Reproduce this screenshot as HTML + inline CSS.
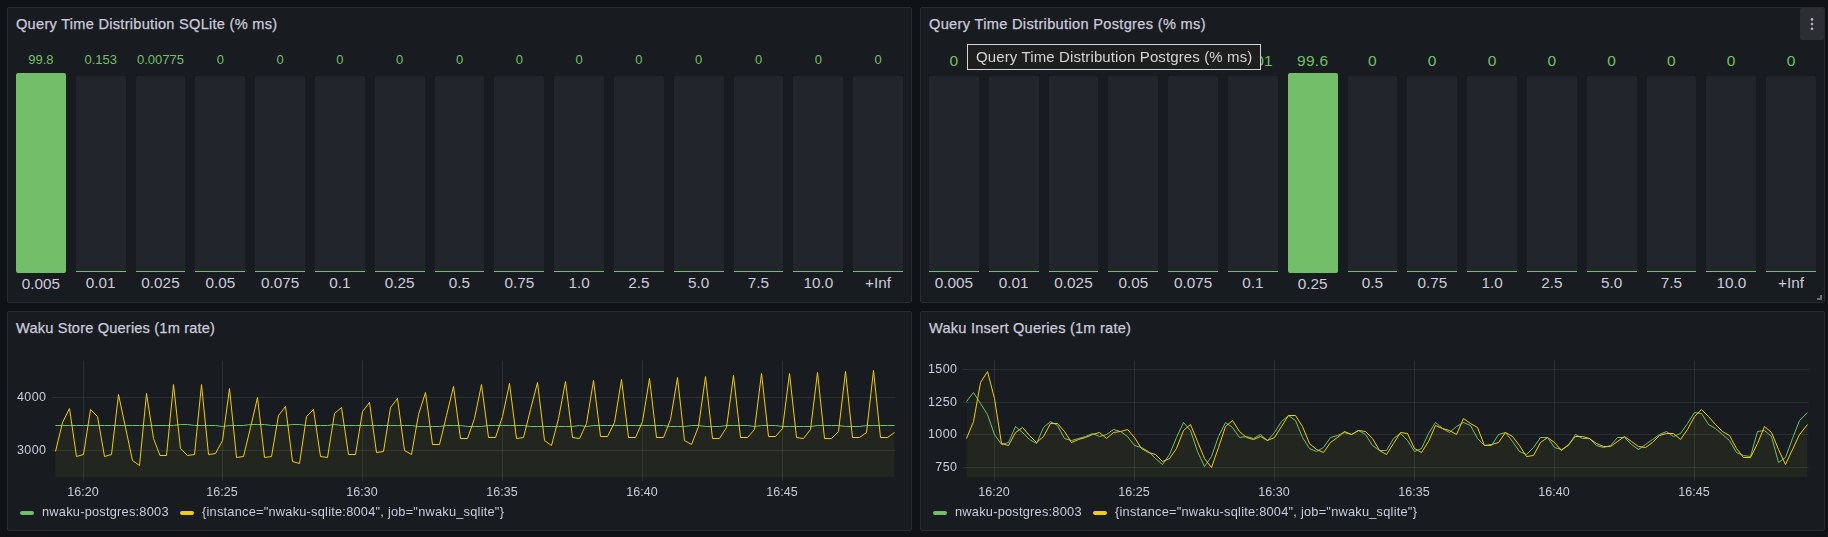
<!DOCTYPE html>
<html><head><meta charset="utf-8">
<style>
html,body{margin:0;padding:0;}
body{width:1828px;height:537px;background:#111217;position:relative;overflow:hidden;font-family:"Liberation Sans",sans-serif;color:#ccccdc;}
.panel{position:absolute;box-sizing:border-box;background:#181b1f;border:1px solid #292b30;border-radius:2px;}
.title{position:absolute;font-size:14.6px;line-height:18px;white-space:nowrap;color:#ccccdc;font-weight:400;letter-spacing:0.1px;-webkit-text-stroke:0.25px #ccccdc;}
.bar{position:absolute;top:76px;height:195px;background:#22252b;border-radius:2px 2px 0 0;border-bottom:1px solid #73bf69;box-sizing:content-box;}
.bar.hot{top:73px;height:200px;background:#73bf69;border-radius:2px;border-bottom:none;}
.lab{position:absolute;width:80px;text-align:center;font-size:15.3px;line-height:16px;color:#ccccdc;white-space:nowrap;}
.val{position:absolute;width:80px;text-align:center;color:#73bf69;white-space:nowrap;}
.v1{font-size:13px;line-height:14px;top:53px;}
.v2{font-size:15.5px;line-height:16px;top:53px;letter-spacing:0.3px;}
.yl{position:absolute;width:60.4px;text-align:right;letter-spacing:0.4px;font-size:12.5px;line-height:16px;color:#ccccdc;white-space:nowrap;}
.xl{position:absolute;width:60px;text-align:center;top:484px;font-size:12.5px;line-height:16px;color:#ccccdc;white-space:nowrap;}
.lg{position:absolute;top:504px;font-size:12.8px;letter-spacing:0.23px;line-height:16px;color:#ccccdc;white-space:nowrap;}
.pill{position:absolute;top:511px;width:14px;height:4px;border-radius:2px;}
svg{position:absolute;left:0;top:0;}
.menu{position:absolute;left:1800px;top:8px;width:24px;height:32px;background:#2d2e34;border-radius:2px;}
.menu i{position:absolute;left:11px;width:2px;height:2px;background:#b9b9c6;border-radius:0.5px;}
.tip,.lg,.xl,.yl{will-change:transform;}
.tip{position:absolute;left:967px;top:44px;width:294px;height:26px;box-sizing:border-box;border:1px solid #d4d4d4;background:#1e1e1e;color:#d6d6d6;font-size:15px;letter-spacing:0.12px;line-height:24px;padding-left:8px;white-space:nowrap;}
</style></head><body>
<div class="panel" style="left:7px;top:7px;width:905px;height:296px"></div>
<div class="panel" style="left:920px;top:7px;width:905px;height:296px"></div>
<div class="panel" style="left:7px;top:311px;width:905px;height:220px"></div>
<div class="panel" style="left:920px;top:311px;width:905px;height:220px"></div>

<div class="title" style="left:16px;top:14.5px;letter-spacing:0.27px" id="t1">Query Time Distribution SQLite (% ms)</div>
<div class="title" style="left:929px;top:14.5px;letter-spacing:0.32px" id="t2">Query Time Distribution Postgres (% ms)</div>
<div class="title" style="left:16px;top:318.6px;letter-spacing:0.18px" id="t3">Waku Store Queries (1m rate)</div>
<div class="title" style="left:929px;top:318.6px;letter-spacing:0.22px" id="t4">Waku Insert Queries (1m rate)</div>

<div class="bar hot" style="left:16.0px;width:49.8px"></div>
<div class="lab" style="left:0.9px;top:276px">0.005</div>
<div class="val v1" style="left:0.9px">99.8</div>
<div class="bar" style="left:75.8px;width:49.8px"></div>
<div class="lab" style="left:60.7px;top:275px">0.01</div>
<div class="val v1" style="left:60.7px">0.153</div>
<div class="bar" style="left:135.6px;width:49.8px"></div>
<div class="lab" style="left:120.5px;top:275px">0.025</div>
<div class="val v1" style="left:120.5px">0.00775</div>
<div class="bar" style="left:195.4px;width:49.8px"></div>
<div class="lab" style="left:180.3px;top:275px">0.05</div>
<div class="val v1" style="left:180.3px">0</div>
<div class="bar" style="left:255.2px;width:49.8px"></div>
<div class="lab" style="left:240.1px;top:275px">0.075</div>
<div class="val v1" style="left:240.1px">0</div>
<div class="bar" style="left:315.0px;width:49.8px"></div>
<div class="lab" style="left:299.9px;top:275px">0.1</div>
<div class="val v1" style="left:299.9px">0</div>
<div class="bar" style="left:374.8px;width:49.8px"></div>
<div class="lab" style="left:359.7px;top:275px">0.25</div>
<div class="val v1" style="left:359.7px">0</div>
<div class="bar" style="left:434.6px;width:49.8px"></div>
<div class="lab" style="left:419.5px;top:275px">0.5</div>
<div class="val v1" style="left:419.5px">0</div>
<div class="bar" style="left:494.4px;width:49.8px"></div>
<div class="lab" style="left:479.3px;top:275px">0.75</div>
<div class="val v1" style="left:479.3px">0</div>
<div class="bar" style="left:554.2px;width:49.8px"></div>
<div class="lab" style="left:539.1px;top:275px">1.0</div>
<div class="val v1" style="left:539.1px">0</div>
<div class="bar" style="left:614.0px;width:49.8px"></div>
<div class="lab" style="left:598.9px;top:275px">2.5</div>
<div class="val v1" style="left:598.9px">0</div>
<div class="bar" style="left:673.8px;width:49.8px"></div>
<div class="lab" style="left:658.7px;top:275px">5.0</div>
<div class="val v1" style="left:658.7px">0</div>
<div class="bar" style="left:733.6px;width:49.8px"></div>
<div class="lab" style="left:718.5px;top:275px">7.5</div>
<div class="val v1" style="left:718.5px">0</div>
<div class="bar" style="left:793.4px;width:49.8px"></div>
<div class="lab" style="left:778.3px;top:275px">10.0</div>
<div class="val v1" style="left:778.3px">0</div>
<div class="bar" style="left:853.2px;width:49.8px"></div>
<div class="lab" style="left:838.1px;top:275px">+Inf</div>
<div class="val v1" style="left:838.1px">0</div>
<div class="bar" style="left:929.0px;width:49.8px"></div>
<div class="lab" style="left:913.9px;top:275px">0.005</div>
<div class="val v2" style="left:913.9px">0</div>
<div class="bar" style="left:988.8px;width:49.8px"></div>
<div class="lab" style="left:973.7px;top:275px">0.01</div>
<div class="val v2" style="left:973.7px">0</div>
<div class="bar" style="left:1048.6px;width:49.8px"></div>
<div class="lab" style="left:1033.5px;top:275px">0.025</div>
<div class="val v2" style="left:1033.5px">0</div>
<div class="bar" style="left:1108.4px;width:49.8px"></div>
<div class="lab" style="left:1093.3px;top:275px">0.05</div>
<div class="val v2" style="left:1093.3px">0</div>
<div class="bar" style="left:1168.2px;width:49.8px"></div>
<div class="lab" style="left:1153.1px;top:275px">0.075</div>
<div class="val v2" style="left:1153.1px">0</div>
<div class="bar" style="left:1228.0px;width:49.8px"></div>
<div class="lab" style="left:1212.9px;top:275px">0.1</div>
<div class="val v2" style="left:1212.9px">0.401</div>
<div class="bar hot" style="left:1287.8px;width:49.8px"></div>
<div class="lab" style="left:1272.7px;top:276px">0.25</div>
<div class="val v2" style="left:1272.7px">99.6</div>
<div class="bar" style="left:1347.6px;width:49.8px"></div>
<div class="lab" style="left:1332.5px;top:275px">0.5</div>
<div class="val v2" style="left:1332.5px">0</div>
<div class="bar" style="left:1407.4px;width:49.8px"></div>
<div class="lab" style="left:1392.3px;top:275px">0.75</div>
<div class="val v2" style="left:1392.3px">0</div>
<div class="bar" style="left:1467.2px;width:49.8px"></div>
<div class="lab" style="left:1452.1px;top:275px">1.0</div>
<div class="val v2" style="left:1452.1px">0</div>
<div class="bar" style="left:1527.0px;width:49.8px"></div>
<div class="lab" style="left:1511.9px;top:275px">2.5</div>
<div class="val v2" style="left:1511.9px">0</div>
<div class="bar" style="left:1586.8px;width:49.8px"></div>
<div class="lab" style="left:1571.7px;top:275px">5.0</div>
<div class="val v2" style="left:1571.7px">0</div>
<div class="bar" style="left:1646.6px;width:49.8px"></div>
<div class="lab" style="left:1631.5px;top:275px">7.5</div>
<div class="val v2" style="left:1631.5px">0</div>
<div class="bar" style="left:1706.4px;width:49.8px"></div>
<div class="lab" style="left:1691.3px;top:275px">10.0</div>
<div class="val v2" style="left:1691.3px">0</div>
<div class="bar" style="left:1766.2px;width:49.8px"></div>
<div class="lab" style="left:1751.1px;top:275px">+Inf</div>
<div class="val v2" style="left:1751.1px">0</div>

<div class="menu"></div>
<div style="position:absolute;left:1820px;top:295px;width:2px;height:5px;background:#6e6e6e"></div><div style="position:absolute;left:1817px;top:298px;width:5px;height:2px;background:#6e6e6e"></div>
<div class="tip" id="tip">Query Time Distribution Postgres (% ms)</div>

<svg width="1828" height="537" viewBox="0 0 1828 537">
<rect x="52" y="397" width="843.5" height="1" fill="rgba(200,215,215,0.105)"/>
<rect x="52" y="450" width="843.5" height="1" fill="rgba(200,215,215,0.105)"/>
<rect x="83" y="360.5" width="1" height="120.5" fill="rgba(200,215,215,0.105)"/>
<rect x="222" y="360.5" width="1" height="120.5" fill="rgba(200,215,215,0.105)"/>
<rect x="362" y="360.5" width="1" height="120.5" fill="rgba(200,215,215,0.105)"/>
<rect x="502" y="360.5" width="1" height="120.5" fill="rgba(200,215,215,0.105)"/>
<rect x="642" y="360.5" width="1" height="120.5" fill="rgba(200,215,215,0.105)"/>
<rect x="782" y="360.5" width="1" height="120.5" fill="rgba(200,215,215,0.105)"/>
<path d="M55.5 425.5 L62.5 425.5 L69.5 425.5 L76.5 425.5 L83.5 425.5 L90.5 425.5 L97.5 425.5 L104.5 425.5 L111.5 425.5 L118.5 425.5 L125.5 425.5 L132.5 425.5 L139.5 425.5 L146.5 425.5 L153.5 425.5 L160.0 425.5 L166.5 425.5 L173.5 425.5 L180.5 424.5 L187.5 424.5 L194.5 425.5 L201.5 425.5 L208.5 425.5 L215.5 425.5 L222.5 426.5 L229.5 425.5 L236.5 425.5 L243.5 425.5 L250.5 424.5 L257.5 424.5 L264.5 424.5 L271.5 425.5 L278.5 425.5 L285.5 425.5 L292.5 424.5 L299.5 424.5 L306.5 425.5 L313.5 425.5 L320.5 425.5 L327.5 425.5 L334.5 424.5 L341.5 425.5 L348.5 425.5 L355.5 425.5 L362.5 425.5 L369.5 425.5 L376.5 425.5 L383.5 425.5 L390.5 425.5 L397.5 425.5 L404.5 425.5 L411.5 425.5 L418.5 426.5 L425.5 426.5 L432.5 426.5 L439.5 426.5 L446.5 425.5 L453.5 425.5 L460.5 425.5 L467.5 426.5 L474.5 426.5 L481.5 426.5 L488.5 425.5 L495.5 425.5 L502.5 425.5 L509.5 425.5 L516.5 425.5 L523.5 425.5 L530.5 426.5 L537.5 426.5 L544.5 426.5 L551.5 426.5 L558.5 426.5 L565.5 426.5 L572.5 426.5 L579.5 425.5 L586.5 426.5 L593.5 425.5 L600.5 425.5 L607.5 425.5 L614.5 425.5 L621.5 425.5 L628.5 425.5 L635.5 425.5 L642.5 425.5 L649.5 425.5 L656.5 425.5 L663.5 425.5 L670.5 426.5 L677.5 426.5 L684.5 426.5 L691.5 425.5 L698.5 425.5 L705.5 426.5 L712.5 426.5 L719.5 426.5 L726.5 425.5 L733.5 425.5 L740.5 425.5 L747.5 425.5 L754.5 426.5 L761.5 425.5 L768.5 425.5 L775.5 425.5 L782.5 426.5 L789.5 426.5 L796.5 426.5 L803.5 426.5 L810.5 426.5 L817.5 425.5 L824.5 425.5 L831.5 425.5 L838.5 425.5 L845.5 426.5 L852.5 426.5 L859.5 426.5 L866.5 425.5 L873.5 425.5 L880.5 425.5 L887.5 425.5 L894.5 425.5 L894.5 477.0 L55.5 477.0 Z" fill="#73bf69" fill-opacity="0.028" stroke="none"/>
<path d="M55.5 451.5 L62.5 422.5 L69.5 408.5 L76.5 456.5 L83.5 454.5 L90.5 409.5 L97.5 416.5 L104.5 456.5 L111.5 454.5 L118.5 394.5 L125.5 427.5 L132.5 460.5 L139.5 465.5 L146.5 393.5 L153.5 438.5 L160.0 455.5 L166.5 455.5 L173.5 384.5 L180.5 448.5 L187.5 455.5 L194.5 454.5 L201.5 384.5 L208.5 454.5 L215.5 453.5 L222.5 440.5 L229.5 388.5 L236.5 457.5 L243.5 456.5 L250.5 427.5 L257.5 397.5 L264.5 457.5 L271.5 456.5 L278.5 415.5 L285.5 406.5 L292.5 461.5 L299.5 463.5 L306.5 416.5 L313.5 409.5 L320.5 456.5 L327.5 457.5 L334.5 413.5 L341.5 407.5 L348.5 454.5 L355.5 454.5 L362.5 411.5 L369.5 402.5 L376.5 452.5 L383.5 451.5 L390.5 407.5 L397.5 398.5 L404.5 450.5 L411.5 454.5 L418.5 414.5 L425.5 392.5 L432.5 444.5 L439.5 444.5 L446.5 415.5 L453.5 386.5 L460.5 438.5 L467.5 438.5 L474.5 418.5 L481.5 384.5 L488.5 437.5 L495.5 437.5 L502.5 416.5 L509.5 383.5 L516.5 438.5 L523.5 437.5 L530.5 409.5 L537.5 382.5 L544.5 440.5 L551.5 445.5 L558.5 418.5 L565.5 381.5 L572.5 437.5 L579.5 438.5 L586.5 423.5 L593.5 380.5 L600.5 436.5 L607.5 436.5 L614.5 422.5 L621.5 379.5 L628.5 437.5 L635.5 437.5 L642.5 421.5 L649.5 378.5 L656.5 437.5 L663.5 437.5 L670.5 419.5 L677.5 377.5 L684.5 440.5 L691.5 444.5 L698.5 426.5 L705.5 376.5 L712.5 438.5 L719.5 438.5 L726.5 427.5 L733.5 375.5 L740.5 437.5 L747.5 437.5 L754.5 429.5 L761.5 373.5 L768.5 436.5 L775.5 436.5 L782.5 428.5 L789.5 373.5 L796.5 437.5 L803.5 438.5 L810.5 429.5 L817.5 372.5 L824.5 438.5 L831.5 438.5 L838.5 431.5 L845.5 371.5 L852.5 437.5 L859.5 437.5 L866.5 432.5 L873.5 370.5 L880.5 437.5 L887.5 437.5 L894.5 432.5 L894.5 477.0 L55.5 477.0 Z" fill="#f2cc0c" fill-opacity="0.045" stroke="none"/>
<path d="M55.5 425.5 L62.5 425.5 L69.5 425.5 L76.5 425.5 L83.5 425.5 L90.5 425.5 L97.5 425.5 L104.5 425.5 L111.5 425.5 L118.5 425.5 L125.5 425.5 L132.5 425.5 L139.5 425.5 L146.5 425.5 L153.5 425.5 L160.0 425.5 L166.5 425.5 L173.5 425.5 L180.5 424.5 L187.5 424.5 L194.5 425.5 L201.5 425.5 L208.5 425.5 L215.5 425.5 L222.5 426.5 L229.5 425.5 L236.5 425.5 L243.5 425.5 L250.5 424.5 L257.5 424.5 L264.5 424.5 L271.5 425.5 L278.5 425.5 L285.5 425.5 L292.5 424.5 L299.5 424.5 L306.5 425.5 L313.5 425.5 L320.5 425.5 L327.5 425.5 L334.5 424.5 L341.5 425.5 L348.5 425.5 L355.5 425.5 L362.5 425.5 L369.5 425.5 L376.5 425.5 L383.5 425.5 L390.5 425.5 L397.5 425.5 L404.5 425.5 L411.5 425.5 L418.5 426.5 L425.5 426.5 L432.5 426.5 L439.5 426.5 L446.5 425.5 L453.5 425.5 L460.5 425.5 L467.5 426.5 L474.5 426.5 L481.5 426.5 L488.5 425.5 L495.5 425.5 L502.5 425.5 L509.5 425.5 L516.5 425.5 L523.5 425.5 L530.5 426.5 L537.5 426.5 L544.5 426.5 L551.5 426.5 L558.5 426.5 L565.5 426.5 L572.5 426.5 L579.5 425.5 L586.5 426.5 L593.5 425.5 L600.5 425.5 L607.5 425.5 L614.5 425.5 L621.5 425.5 L628.5 425.5 L635.5 425.5 L642.5 425.5 L649.5 425.5 L656.5 425.5 L663.5 425.5 L670.5 426.5 L677.5 426.5 L684.5 426.5 L691.5 425.5 L698.5 425.5 L705.5 426.5 L712.5 426.5 L719.5 426.5 L726.5 425.5 L733.5 425.5 L740.5 425.5 L747.5 425.5 L754.5 426.5 L761.5 425.5 L768.5 425.5 L775.5 425.5 L782.5 426.5 L789.5 426.5 L796.5 426.5 L803.5 426.5 L810.5 426.5 L817.5 425.5 L824.5 425.5 L831.5 425.5 L838.5 425.5 L845.5 426.5 L852.5 426.5 L859.5 426.5 L866.5 425.5 L873.5 425.5 L880.5 425.5 L887.5 425.5 L894.5 425.5" fill="none" stroke="#73bf69" stroke-width="1" stroke-linejoin="round"/>
<path d="M55.5 451.5 L62.5 422.5 L69.5 408.5 L76.5 456.5 L83.5 454.5 L90.5 409.5 L97.5 416.5 L104.5 456.5 L111.5 454.5 L118.5 394.5 L125.5 427.5 L132.5 460.5 L139.5 465.5 L146.5 393.5 L153.5 438.5 L160.0 455.5 L166.5 455.5 L173.5 384.5 L180.5 448.5 L187.5 455.5 L194.5 454.5 L201.5 384.5 L208.5 454.5 L215.5 453.5 L222.5 440.5 L229.5 388.5 L236.5 457.5 L243.5 456.5 L250.5 427.5 L257.5 397.5 L264.5 457.5 L271.5 456.5 L278.5 415.5 L285.5 406.5 L292.5 461.5 L299.5 463.5 L306.5 416.5 L313.5 409.5 L320.5 456.5 L327.5 457.5 L334.5 413.5 L341.5 407.5 L348.5 454.5 L355.5 454.5 L362.5 411.5 L369.5 402.5 L376.5 452.5 L383.5 451.5 L390.5 407.5 L397.5 398.5 L404.5 450.5 L411.5 454.5 L418.5 414.5 L425.5 392.5 L432.5 444.5 L439.5 444.5 L446.5 415.5 L453.5 386.5 L460.5 438.5 L467.5 438.5 L474.5 418.5 L481.5 384.5 L488.5 437.5 L495.5 437.5 L502.5 416.5 L509.5 383.5 L516.5 438.5 L523.5 437.5 L530.5 409.5 L537.5 382.5 L544.5 440.5 L551.5 445.5 L558.5 418.5 L565.5 381.5 L572.5 437.5 L579.5 438.5 L586.5 423.5 L593.5 380.5 L600.5 436.5 L607.5 436.5 L614.5 422.5 L621.5 379.5 L628.5 437.5 L635.5 437.5 L642.5 421.5 L649.5 378.5 L656.5 437.5 L663.5 437.5 L670.5 419.5 L677.5 377.5 L684.5 440.5 L691.5 444.5 L698.5 426.5 L705.5 376.5 L712.5 438.5 L719.5 438.5 L726.5 427.5 L733.5 375.5 L740.5 437.5 L747.5 437.5 L754.5 429.5 L761.5 373.5 L768.5 436.5 L775.5 436.5 L782.5 428.5 L789.5 373.5 L796.5 437.5 L803.5 438.5 L810.5 429.5 L817.5 372.5 L824.5 438.5 L831.5 438.5 L838.5 431.5 L845.5 371.5 L852.5 437.5 L859.5 437.5 L866.5 432.5 L873.5 370.5 L880.5 437.5 L887.5 437.5 L894.5 432.5" fill="none" stroke="#f2cc0c" stroke-width="1" stroke-linejoin="round"/>
<rect x="963" y="369" width="845.6" height="1" fill="rgba(200,215,215,0.105)"/>
<rect x="963" y="402" width="845.6" height="1" fill="rgba(200,215,215,0.105)"/>
<rect x="963" y="434" width="845.6" height="1" fill="rgba(200,215,215,0.105)"/>
<rect x="963" y="467" width="845.6" height="1" fill="rgba(200,215,215,0.105)"/>
<rect x="994" y="360.5" width="1" height="120.5" fill="rgba(200,215,215,0.105)"/>
<rect x="1134" y="360.5" width="1" height="120.5" fill="rgba(200,215,215,0.105)"/>
<rect x="1274" y="360.5" width="1" height="120.5" fill="rgba(200,215,215,0.105)"/>
<rect x="1414" y="360.5" width="1" height="120.5" fill="rgba(200,215,215,0.105)"/>
<rect x="1554" y="360.5" width="1" height="120.5" fill="rgba(200,215,215,0.105)"/>
<rect x="1694" y="360.5" width="1" height="120.5" fill="rgba(200,215,215,0.105)"/>
<path d="M966.5 401.5 L973.5 392.5 L980.5 403.5 L987.5 414.5 L994.5 434.5 L1001.5 444.5 L1008.5 442.5 L1015.5 426.5 L1022.5 432.5 L1029.5 439.5 L1036.5 443.5 L1043.5 427.5 L1050.5 421.5 L1057.5 425.5 L1064.5 438.5 L1071.5 440.5 L1078.5 438.5 L1085.5 436.5 L1092.5 433.5 L1099.5 436.5 L1106.5 434.5 L1113.5 429.5 L1120.5 431.5 L1127.5 436.5 L1134.5 445.5 L1141.5 447.5 L1148.5 451.5 L1155.5 458.5 L1162.5 464.5 L1169.5 454.5 L1176.5 437.5 L1183.5 422.5 L1190.5 430.5 L1197.5 451.5 L1204.5 466.5 L1211.5 456.5 L1218.5 436.5 L1225.5 422.5 L1232.5 427.5 L1239.5 437.5 L1246.5 436.5 L1253.5 438.5 L1260.5 434.5 L1267.5 440.5 L1274.5 432.5 L1281.5 421.5 L1288.5 415.5 L1295.5 420.5 L1302.5 437.5 L1309.5 448.5 L1316.5 451.5 L1323.5 447.5 L1330.5 437.5 L1337.5 435.5 L1344.5 432.5 L1351.5 434.5 L1358.5 430.5 L1365.5 434.5 L1372.5 445.5 L1379.5 450.5 L1386.5 450.5 L1393.5 438.5 L1400.5 433.5 L1407.5 440.5 L1414.5 451.5 L1421.5 448.5 L1428.5 433.5 L1435.5 422.5 L1442.5 428.5 L1449.5 432.5 L1456.5 426.5 L1463.5 422.5 L1470.5 425.5 L1477.5 438.5 L1484.5 445.5 L1491.5 445.5 L1498.5 434.5 L1505.5 432.5 L1512.5 441.5 L1519.5 451.5 L1526.5 454.5 L1533.5 447.5 L1540.5 437.5 L1547.5 437.5 L1554.5 447.5 L1561.5 449.5 L1568.5 445.5 L1575.5 434.5 L1582.5 438.5 L1589.5 438.5 L1596.5 445.5 L1603.5 447.5 L1610.5 445.5 L1617.5 437.5 L1624.5 437.5 L1631.5 444.5 L1638.5 449.5 L1645.5 444.5 L1652.5 439.5 L1659.5 434.5 L1666.5 431.5 L1673.5 436.5 L1680.5 433.5 L1687.5 423.5 L1694.5 412.5 L1701.5 413.5 L1708.5 424.5 L1715.5 428.5 L1722.5 434.5 L1729.5 440.5 L1736.5 452.5 L1743.5 455.5 L1750.5 456.5 L1757.5 431.5 L1764.5 430.5 L1771.5 436.5 L1778.5 462.5 L1785.5 457.5 L1792.5 438.5 L1799.5 420.5 L1807.5 412.5 L1807.5 477.0 L966.5 477.0 Z" fill="#73bf69" fill-opacity="0.028" stroke="none"/>
<path d="M966.5 438.5 L973.5 421.5 L980.5 382.5 L987.5 371.5 L994.5 398.5 L1001.5 443.5 L1008.5 445.5 L1015.5 432.5 L1022.5 427.5 L1029.5 435.5 L1036.5 442.5 L1043.5 436.5 L1050.5 423.5 L1057.5 423.5 L1064.5 431.5 L1071.5 442.5 L1078.5 439.5 L1085.5 437.5 L1092.5 434.5 L1099.5 432.5 L1106.5 438.5 L1113.5 432.5 L1120.5 431.5 L1127.5 429.5 L1134.5 437.5 L1141.5 448.5 L1148.5 452.5 L1155.5 454.5 L1162.5 461.5 L1169.5 458.5 L1176.5 448.5 L1183.5 430.5 L1190.5 424.5 L1197.5 441.5 L1204.5 458.5 L1211.5 467.5 L1218.5 447.5 L1225.5 426.5 L1232.5 420.5 L1239.5 431.5 L1246.5 437.5 L1253.5 439.5 L1260.5 436.5 L1267.5 440.5 L1274.5 437.5 L1281.5 426.5 L1288.5 415.5 L1295.5 415.5 L1302.5 426.5 L1309.5 443.5 L1316.5 449.5 L1323.5 452.5 L1330.5 442.5 L1337.5 437.5 L1344.5 431.5 L1351.5 434.5 L1358.5 430.5 L1365.5 431.5 L1372.5 438.5 L1379.5 450.5 L1386.5 454.5 L1393.5 443.5 L1400.5 432.5 L1407.5 433.5 L1414.5 448.5 L1421.5 452.5 L1428.5 441.5 L1435.5 425.5 L1442.5 428.5 L1449.5 430.5 L1456.5 434.5 L1463.5 418.5 L1470.5 423.5 L1477.5 427.5 L1484.5 445.5 L1491.5 444.5 L1498.5 442.5 L1505.5 432.5 L1512.5 436.5 L1519.5 445.5 L1526.5 456.5 L1533.5 455.5 L1540.5 442.5 L1547.5 437.5 L1554.5 442.5 L1561.5 450.5 L1568.5 444.5 L1575.5 436.5 L1582.5 436.5 L1589.5 438.5 L1596.5 443.5 L1603.5 446.5 L1610.5 446.5 L1617.5 441.5 L1624.5 436.5 L1631.5 441.5 L1638.5 446.5 L1645.5 447.5 L1652.5 442.5 L1659.5 435.5 L1666.5 433.5 L1673.5 433.5 L1680.5 439.5 L1687.5 429.5 L1694.5 416.5 L1701.5 409.5 L1708.5 416.5 L1715.5 424.5 L1722.5 431.5 L1729.5 435.5 L1736.5 448.5 L1743.5 457.5 L1750.5 457.5 L1757.5 443.5 L1764.5 426.5 L1771.5 432.5 L1778.5 449.5 L1785.5 464.5 L1792.5 449.5 L1799.5 434.5 L1807.5 424.5 L1807.5 477.0 L966.5 477.0 Z" fill="#f2cc0c" fill-opacity="0.045" stroke="none"/>
<path d="M966.5 401.5 L973.5 392.5 L980.5 403.5 L987.5 414.5 L994.5 434.5 L1001.5 444.5 L1008.5 442.5 L1015.5 426.5 L1022.5 432.5 L1029.5 439.5 L1036.5 443.5 L1043.5 427.5 L1050.5 421.5 L1057.5 425.5 L1064.5 438.5 L1071.5 440.5 L1078.5 438.5 L1085.5 436.5 L1092.5 433.5 L1099.5 436.5 L1106.5 434.5 L1113.5 429.5 L1120.5 431.5 L1127.5 436.5 L1134.5 445.5 L1141.5 447.5 L1148.5 451.5 L1155.5 458.5 L1162.5 464.5 L1169.5 454.5 L1176.5 437.5 L1183.5 422.5 L1190.5 430.5 L1197.5 451.5 L1204.5 466.5 L1211.5 456.5 L1218.5 436.5 L1225.5 422.5 L1232.5 427.5 L1239.5 437.5 L1246.5 436.5 L1253.5 438.5 L1260.5 434.5 L1267.5 440.5 L1274.5 432.5 L1281.5 421.5 L1288.5 415.5 L1295.5 420.5 L1302.5 437.5 L1309.5 448.5 L1316.5 451.5 L1323.5 447.5 L1330.5 437.5 L1337.5 435.5 L1344.5 432.5 L1351.5 434.5 L1358.5 430.5 L1365.5 434.5 L1372.5 445.5 L1379.5 450.5 L1386.5 450.5 L1393.5 438.5 L1400.5 433.5 L1407.5 440.5 L1414.5 451.5 L1421.5 448.5 L1428.5 433.5 L1435.5 422.5 L1442.5 428.5 L1449.5 432.5 L1456.5 426.5 L1463.5 422.5 L1470.5 425.5 L1477.5 438.5 L1484.5 445.5 L1491.5 445.5 L1498.5 434.5 L1505.5 432.5 L1512.5 441.5 L1519.5 451.5 L1526.5 454.5 L1533.5 447.5 L1540.5 437.5 L1547.5 437.5 L1554.5 447.5 L1561.5 449.5 L1568.5 445.5 L1575.5 434.5 L1582.5 438.5 L1589.5 438.5 L1596.5 445.5 L1603.5 447.5 L1610.5 445.5 L1617.5 437.5 L1624.5 437.5 L1631.5 444.5 L1638.5 449.5 L1645.5 444.5 L1652.5 439.5 L1659.5 434.5 L1666.5 431.5 L1673.5 436.5 L1680.5 433.5 L1687.5 423.5 L1694.5 412.5 L1701.5 413.5 L1708.5 424.5 L1715.5 428.5 L1722.5 434.5 L1729.5 440.5 L1736.5 452.5 L1743.5 455.5 L1750.5 456.5 L1757.5 431.5 L1764.5 430.5 L1771.5 436.5 L1778.5 462.5 L1785.5 457.5 L1792.5 438.5 L1799.5 420.5 L1807.5 412.5" fill="none" stroke="#73bf69" stroke-width="1" stroke-linejoin="round"/>
<path d="M966.5 438.5 L973.5 421.5 L980.5 382.5 L987.5 371.5 L994.5 398.5 L1001.5 443.5 L1008.5 445.5 L1015.5 432.5 L1022.5 427.5 L1029.5 435.5 L1036.5 442.5 L1043.5 436.5 L1050.5 423.5 L1057.5 423.5 L1064.5 431.5 L1071.5 442.5 L1078.5 439.5 L1085.5 437.5 L1092.5 434.5 L1099.5 432.5 L1106.5 438.5 L1113.5 432.5 L1120.5 431.5 L1127.5 429.5 L1134.5 437.5 L1141.5 448.5 L1148.5 452.5 L1155.5 454.5 L1162.5 461.5 L1169.5 458.5 L1176.5 448.5 L1183.5 430.5 L1190.5 424.5 L1197.5 441.5 L1204.5 458.5 L1211.5 467.5 L1218.5 447.5 L1225.5 426.5 L1232.5 420.5 L1239.5 431.5 L1246.5 437.5 L1253.5 439.5 L1260.5 436.5 L1267.5 440.5 L1274.5 437.5 L1281.5 426.5 L1288.5 415.5 L1295.5 415.5 L1302.5 426.5 L1309.5 443.5 L1316.5 449.5 L1323.5 452.5 L1330.5 442.5 L1337.5 437.5 L1344.5 431.5 L1351.5 434.5 L1358.5 430.5 L1365.5 431.5 L1372.5 438.5 L1379.5 450.5 L1386.5 454.5 L1393.5 443.5 L1400.5 432.5 L1407.5 433.5 L1414.5 448.5 L1421.5 452.5 L1428.5 441.5 L1435.5 425.5 L1442.5 428.5 L1449.5 430.5 L1456.5 434.5 L1463.5 418.5 L1470.5 423.5 L1477.5 427.5 L1484.5 445.5 L1491.5 444.5 L1498.5 442.5 L1505.5 432.5 L1512.5 436.5 L1519.5 445.5 L1526.5 456.5 L1533.5 455.5 L1540.5 442.5 L1547.5 437.5 L1554.5 442.5 L1561.5 450.5 L1568.5 444.5 L1575.5 436.5 L1582.5 436.5 L1589.5 438.5 L1596.5 443.5 L1603.5 446.5 L1610.5 446.5 L1617.5 441.5 L1624.5 436.5 L1631.5 441.5 L1638.5 446.5 L1645.5 447.5 L1652.5 442.5 L1659.5 435.5 L1666.5 433.5 L1673.5 433.5 L1680.5 439.5 L1687.5 429.5 L1694.5 416.5 L1701.5 409.5 L1708.5 416.5 L1715.5 424.5 L1722.5 431.5 L1729.5 435.5 L1736.5 448.5 L1743.5 457.5 L1750.5 457.5 L1757.5 443.5 L1764.5 426.5 L1771.5 432.5 L1778.5 449.5 L1785.5 464.5 L1792.5 449.5 L1799.5 434.5 L1807.5 424.5" fill="none" stroke="#f2cc0c" stroke-width="1" stroke-linejoin="round"/>
<circle cx="1812" cy="19.4" r="1.3" fill="#b8b8c6"/><circle cx="1812" cy="24.05" r="1.3" fill="#b8b8c6"/><circle cx="1812" cy="28.7" r="1.3" fill="#b8b8c6"/>
</svg>

<div class="yl" style="left:-14px;top:389px">4000</div>
<div class="yl" style="left:-14px;top:442px">3000</div>
<div class="yl" style="left:897px;top:361px">1500</div>
<div class="yl" style="left:897px;top:394px">1250</div>
<div class="yl" style="left:897px;top:426px">1000</div>
<div class="yl" style="left:897px;top:459px">750</div>
<div class="xl" style="left:53px">16:20</div>
<div class="xl" style="left:192px">16:25</div>
<div class="xl" style="left:332px">16:30</div>
<div class="xl" style="left:472px">16:35</div>
<div class="xl" style="left:612px">16:40</div>
<div class="xl" style="left:752px">16:45</div>
<div class="xl" style="left:964px">16:20</div>
<div class="xl" style="left:1104px">16:25</div>
<div class="xl" style="left:1244px">16:30</div>
<div class="xl" style="left:1384px">16:35</div>
<div class="xl" style="left:1524px">16:40</div>
<div class="xl" style="left:1664px">16:45</div>

<div class="pill" style="left:20px;background:#73bf69"></div>
<div class="lg" style="left:42px" id="l1">nwaku-postgres:8003</div>
<div class="pill" style="left:180px;background:#f2cc0c"></div>
<div class="lg" style="left:202px" id="l2">{instance="nwaku-sqlite:8004", job="nwaku_sqlite"}</div>
<div class="pill" style="left:933px;background:#73bf69"></div>
<div class="lg" style="left:955px" id="l3">nwaku-postgres:8003</div>
<div class="pill" style="left:1093px;background:#f2cc0c"></div>
<div class="lg" style="left:1115px" id="l4">{instance="nwaku-sqlite:8004", job="nwaku_sqlite"}</div>
</body></html>
